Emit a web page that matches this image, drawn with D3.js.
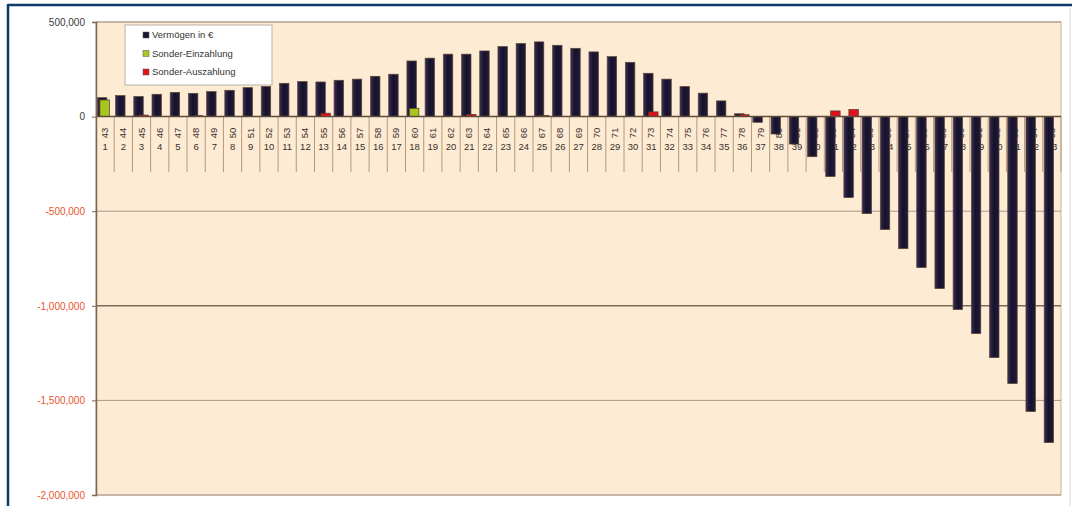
<!DOCTYPE html>
<html>
<head>
<meta charset="utf-8">
<script src="https://cdn.jsdelivr.net/npm/d3@7"></script>
<style>
  body { margin: 0; background: #fff; }
  svg { display: block; font-family: "Liberation Sans", Arial, sans-serif; }
</style>
</head>
<body>
<div id="chart"></div>
<script>
// Vermögensverlauf nach Jahren

var jahre = [1,2,3,4,5,6,7,8,9,10,11,12,13,14,15,16,17,18,19,20,21,22,23,24,25,26,27,
  28,29,30,31,32,33,34,35,36,37,38,39,40,41,42,43,44,45,46,47,48,49,50,51,52,53];
var alter = [43,44,45,46,47,48,49,50,51,52,53,54,55,56,57,58,59,60,61,62,63,64,65,66,67,68,69,
  70,71,72,73,74,75,76,77,78,79,80,81,82,83,84,85,86,87,88,89,90,91,92,93,94,95];

var vermoegen = [100000,111000,106000,118000,128000,123000,132000,139000,153000,159000,
  176000,185000,183000,192000,198000,213000,224000,294000,309000,330000,
  330000,347000,370000,386000,395000,377000,361000,342000,317000,287000,
  229000,198000,159000,124000,83000,15000,-30000,-92000,-145000,-212000,
  -317000,-428000,-513000,-597000,-698000,-798000,-909000,-1020000,-1147000,-1274000,
  -1411000,-1559000,-1723000];
var einzahlung = [88000,0,0,0,0,0,0,0,0,0, 0,0,0,0,0,0,0,44000,0,0,
  0,0,0,0,0,0,0,0,0,0, 0,0,0,0,0,0,0,0,0,0, 0,0,0,0,0,0,0,0,0,0, 0,0,0];
var auszahlung = [0,0,8000,0,0,5000,0,0,0,0, 0,0,18000,0,0,0,0,0,0,0,
  12000,0,0,0,6000,0,0,0,0,0, 25000,0,0,0,0,10000,0,0,0,0, 30000,37000,0,0,0,0,0,0,0,0, 0,0,0];

var serien = ["Vermögen in €", "Sonder-Einzahlung", "Sonder-Auszahlung"];
var farben = ["url(#darkBar)", "#a9c61c", "#e3101c"];
var yTicks = [500000, 0, -500000, -1000000, -1500000, -2000000];

var width = 1072, height = 506;
var margin = {top: 22, right: 11, bottom: 11, left: 96};

var svg = d3.select("#chart").append("svg")
    .attr("width", width)
    .attr("height", height);

var defs = svg.append("defs");
var grad = defs.append("linearGradient").attr("id", "darkBar")
    .attr("x1", 0).attr("x2", 1).attr("y1", 0).attr("y2", 0);
grad.append("stop").attr("offset", "0%").attr("stop-color", "#3b2d55");
grad.append("stop").attr("offset", "45%").attr("stop-color", "#14122a");
grad.append("stop").attr("offset", "100%").attr("stop-color", "#221a38");

// outer frame
svg.append("line").attr("x1", 8).attr("x2", width).attr("y1", 5).attr("y2", 5)
    .attr("stroke", "#0e3a6a").attr("stroke-width", 2.5);
svg.append("line").attr("x1", 8).attr("x2", 8).attr("y1", 4).attr("y2", height)
    .attr("stroke", "#0e3a6a").attr("stroke-width", 2.5);
svg.append("line").attr("x1", 1070).attr("x2", 1070).attr("y1", 8).attr("y2", height)
    .attr("stroke", "#d8d8d8").attr("stroke-width", 1);

var x = d3.scaleBand()
    .domain(jahre)
    .range([margin.left, width - margin.right])
    .padding(0);

var y = d3.scaleLinear()
    .domain([-2000000, 500000])
    .range([height - margin.bottom, margin.top]);

var xOff = d3.scalePoint().domain(serien).range([-3, 2]);
var barW = x.bandwidth() * 0.52;

// plot area
svg.append("rect")
    .attr("x", margin.left).attr("y", margin.top)
    .attr("width", x.range()[1] - margin.left)
    .attr("height", y(-2000000) - margin.top)
    .attr("fill", "#fdebd4")
    .attr("stroke", "#c9b396").attr("stroke-width", 1);

// gridlines
svg.append("g").selectAll("line")
    .data(yTicks.filter(function(d) { return d !== 0; }))
    .enter().append("line")
    .attr("x1", margin.left).attr("x2", x.range()[1])
    .attr("y1", function(d) { return y(d); })
    .attr("y2", function(d) { return y(d); })
    .attr("stroke", function(d) { return d === -1000000 ? "#7d6a5a" : "#a8978a"; })
    .attr("stroke-width", function(d) { return d === -1000000 ? 1.5 : 1; });

// label table separators
var tableBottom = 172;
svg.append("g").selectAll("line")
    .data(jahre)
    .enter().append("line")
    .attr("x1", function(d) { return x(d) + x.bandwidth(); })
    .attr("x2", function(d) { return x(d) + x.bandwidth(); })
    .attr("y1", y(0)).attr("y2", tableBottom)
    .attr("stroke", "#b59a7c").attr("stroke-width", 1);

// category labels
var labels = svg.append("g").attr("fill", "#3a302c").attr("font-size", 9.5);
labels.selectAll("text.alter")
    .data(jahre)
    .enter().append("text")
    .attr("class", "alter")
    .attr("text-anchor", "middle")
    .attr("transform", function(d, i) {
        return "translate(" + (x(d) + x.bandwidth() / 2 + 3) + ",133) rotate(-90)";
    })
    .text(function(d, i) { return alter[i]; });
labels.selectAll("text.jahr")
    .data(jahre)
    .enter().append("text")
    .attr("class", "jahr")
    .attr("text-anchor", "middle")
    .attr("x", function(d) { return x(d) + x.bandwidth() / 2; })
    .attr("y", 150)
    .text(function(d) { return d; });

// bars
var werte = [vermoegen, einzahlung, auszahlung];
serien.forEach(function(s, si) {
    svg.append("g").selectAll("rect")
        .data(werte[si].map(function(v, i) { return {jahr: jahre[i], v: v}; })
            .filter(function(d) { return d.v !== 0; }))
        .enter().append("rect")
        .attr("x", function(d) { return x(d.jahr) + x.bandwidth() / 2 + xOff(s) - barW / 2; })
        .attr("y", function(d) { return y(Math.max(0, d.v)); })
        .attr("width", barW)
        .attr("height", function(d) { return Math.abs(y(d.v) - y(0)); })
        .attr("fill", farben[si])
        .attr("stroke", si === 0 ? "#5b4535" : "#4a3a2a")
        .attr("stroke-width", 0.7);
});

// zero line
svg.append("line")
    .attr("x1", margin.left).attr("x2", x.range()[1])
    .attr("y1", y(0)).attr("y2", y(0))
    .attr("stroke", "#5e4b3c").attr("stroke-width", 1.5);

// y axis
var yAxis = d3.axisLeft(y)
    .tickValues(yTicks)
    .tickSize(4)
    .tickPadding(7)
    .tickFormat(function(d) { return d3.format(",")(d).replace("−", "-"); });

var gy = svg.append("g")
    .attr("transform", "translate(" + margin.left + ",0)")
    .call(yAxis);
gy.select(".domain").attr("stroke", "#7a6656").attr("stroke-width", 1.5);
gy.selectAll(".tick line").attr("stroke", "#7a6656");
gy.selectAll(".tick text")
    .attr("font-size", 10)
    .attr("font-family", "Liberation Sans, Arial, sans-serif")
    .attr("fill", function(d) { return d < 0 ? "#e8552e" : "#3a3a3a"; });

// legend
var legend = svg.append("g").attr("transform", "translate(125,25)");
legend.append("rect")
    .attr("width", 147).attr("height", 60)
    .attr("fill", "#ffffff")
    .attr("stroke", "#bcb0a4");

var item = legend.selectAll("g.item")
    .data(serien)
    .enter().append("g")
    .attr("class", "item")
    .attr("transform", function(d, i) { return "translate(18," + (10 + i * 18.5) + ")"; });

item.append("rect")
    .attr("y", -3).attr("width", 6).attr("height", 6)
    .attr("fill", function(d, i) { return i === 0 ? "#1a1630" : farben[i]; })
    .attr("stroke", "#555").attr("stroke-width", 0.5);

item.append("text")
    .attr("x", 9).attr("dy", "0.35em")
    .attr("font-size", 9.5)
    .attr("fill", "#333")
    .text(function(d) { return d; });
</script>
</body>
</html>
